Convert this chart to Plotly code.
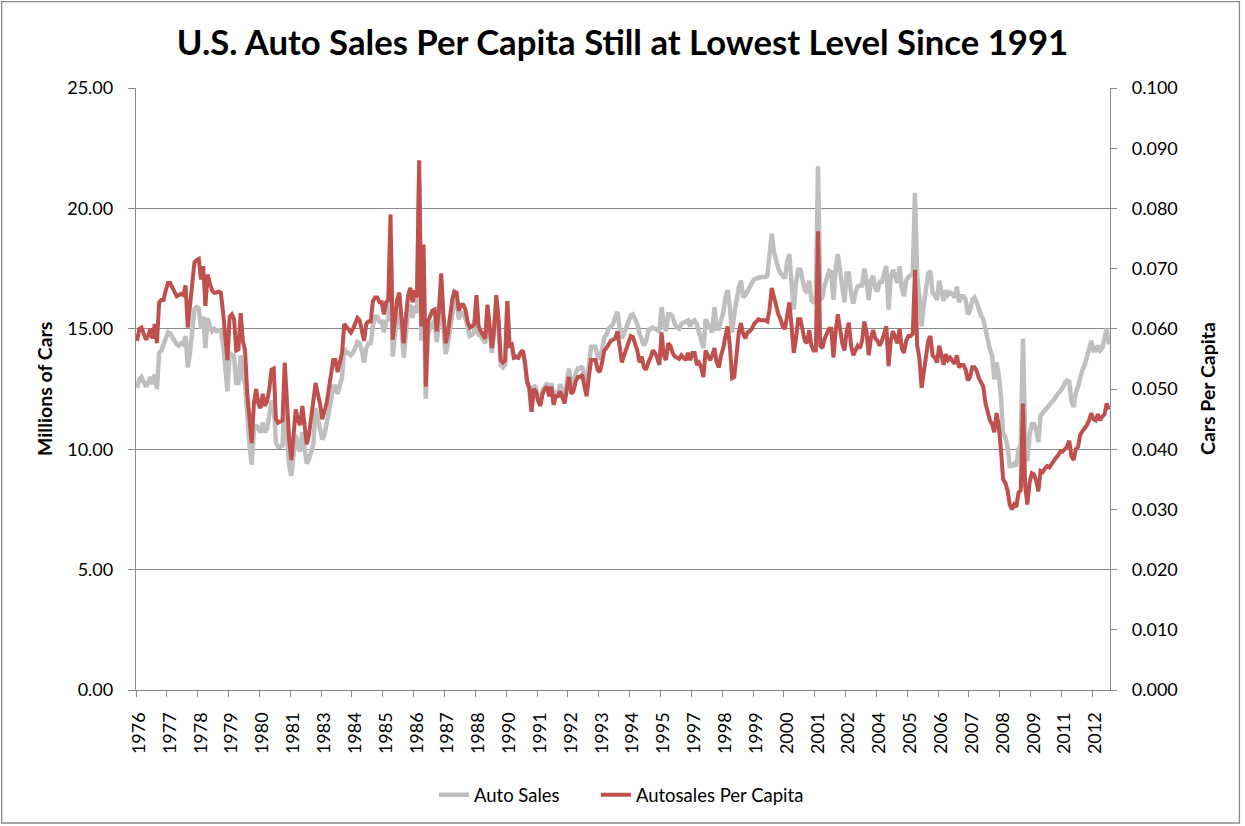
import pandas as pd
import plotly.graph_objects as go

# Monthly data, Jan 1976 - Oct 2012
months = pd.date_range("1976-01-01", periods=442, freq="MS")

# Auto sales, millions of cars (annual rate)
auto_sales = [
    12.55, 12.9, 13.0, 12.75, 12.6, 12.75, 13.0, 12.7, 13.1, 12.5, 14.0, 14.1,      # 1976
    14.4, 14.6, 14.85, 14.8, 14.6, 14.5, 14.35, 14.3, 14.4, 14.35, 14.7, 13.4,      # 1977
    14.0, 14.9, 15.8, 15.9, 15.85, 15.0, 15.5, 14.2, 15.45, 15.1, 14.9, 15.0,       # 1978
    14.9, 14.95, 14.9, 14.4, 13.2, 12.4, 14.0, 13.95, 13.85, 12.75, 12.75, 13.9,    # 1979
    13.0, 12.7, 11.3, 10.2, 9.35, 10.8, 11.0, 10.8, 10.7, 11.1, 10.7, 10.85,        # 1980
    11.5, 12.0, 11.9, 10.26, 10.1, 10.1, 10.15, 12.4, 10.5, 9.3, 8.9, 9.6,          # 1981
    10.6, 10.1, 9.9, 10.7, 9.9, 9.4, 9.6, 10.0, 10.2, 11.7, 11.2, 10.9,             # 1982
    10.4, 10.6, 11.0, 11.5, 12.0, 12.6, 12.6, 12.3, 12.7, 13.0, 14.2, 14.0,         # 1983
    14.0, 13.9, 14.0, 14.2, 14.45, 14.4, 14.1, 13.6, 14.2, 14.4, 14.4, 15.1,        # 1984
    15.5, 15.5, 15.3, 15.3, 14.85, 15.3, 15.4, 18.8, 13.85, 14.75, 15.4, 15.7,      # 1985
    15.0, 13.8, 14.9, 15.75, 16.0, 15.45, 15.95, 15.65, 21.1, 14.5, 17.75, 12.1,    # 1986
    14.8, 15.0, 15.25, 15.3, 14.45, 15.3, 16.75, 15.1, 13.95, 14.35, 15.0, 15.7,    # 1987
    16.2, 16.15, 15.4, 15.65, 15.65, 15.45, 14.95, 14.7, 14.75, 14.85, 16.05, 14.75,  # 1988
    14.7, 14.5, 14.4, 15.8, 15.0, 14.0, 14.8, 16.2, 15.2, 13.5, 13.4, 13.5,         # 1989
    16.1, 14.3, 14.3, 13.8, 13.8, 13.8, 14.0, 14.1, 13.6, 12.8, 12.5, 11.55,        # 1990
    12.65, 12.55, 12.15, 11.95, 12.45, 12.65, 12.75, 12.35, 12.75, 12.0, 12.35, 12.35,  # 1991
    12.7, 12.4, 12.2, 12.8, 13.35, 12.6, 12.7, 13.15, 13.35, 13.35, 13.45, 12.95,   # 1992
    12.7, 13.5, 14.25, 14.25, 14.25, 13.85, 13.75, 14.15, 14.65, 14.75, 15.0, 15.1,  # 1993
    15.2, 15.5, 15.7, 15.0, 14.6, 14.8, 15.0, 15.3, 15.55, 15.6, 15.4, 15.2,        # 1994
    14.8, 14.6, 14.3, 14.5, 14.95, 15.0, 15.05, 15.0, 14.95, 14.9, 15.9, 15.2,      # 1995
    14.9, 15.6, 15.6, 15.5, 15.2, 15.05, 15.0, 15.2, 15.25, 15.3, 15.35, 15.1,      # 1996
    15.3, 15.35, 15.2, 14.85, 14.5, 14.2, 15.4, 15.2, 15.0, 14.85, 15.9, 15.0,      # 1997
    15.0, 15.3, 15.7, 16.3, 16.6, 15.9, 14.85, 15.6, 16.2, 16.7, 17.0, 16.3,        # 1998
    16.4, 16.6, 16.7, 16.9, 17.05, 17.1, 17.15, 17.15, 17.15, 17.15, 17.2, 17.95,   # 1999
    18.95, 18.2, 17.8, 17.5, 17.3, 17.2, 17.1, 17.8, 18.1, 16.9, 15.8, 16.9,        # 2000
    17.45, 17.45, 17.0, 16.6, 16.5, 17.0, 16.2, 16.1, 16.1, 21.75, 16.2, 16.3,      # 2001
    16.8, 17.2, 17.4, 17.35, 16.2, 17.5, 18.1, 17.4, 16.6, 16.1, 17.3, 17.3,        # 2002
    16.5, 16.05, 16.5, 16.75, 16.8, 16.8, 17.5, 17.0, 16.2, 17.0, 17.2, 16.7,       # 2003
    16.55, 16.95, 16.95, 17.3, 17.6, 15.8, 17.1, 17.45, 17.2, 16.9, 17.6, 16.7,     # 2004
    16.35, 17.0, 17.15, 17.2, 17.3, 20.65, 17.2, 16.3, 15.1, 16.0, 16.8, 17.3,      # 2005
    17.4, 16.5, 16.4, 16.2, 17.0, 16.6, 16.15, 16.6, 16.4, 16.5, 16.45, 16.3,       # 2006
    16.75, 16.1, 16.35, 16.35, 16.2, 15.6, 15.75, 16.2, 16.3, 16.1, 15.8, 15.55,    # 2007
    15.4, 14.95, 14.6, 14.15, 13.9, 12.9, 13.6, 13.1, 12.2, 10.65, 10.5, 10.1,      # 2008
    9.3, 9.3, 9.4, 9.3, 10.0, 10.2, 14.6, 10.4, 9.5, 10.6, 11.05, 11.05,            # 2009
    10.8, 10.3, 11.4, 11.5, 11.65, 11.7, 11.8, 11.9, 12.05, 12.2, 12.3, 12.4,       # 2010
    12.55, 12.75, 12.85, 12.8, 12.0, 11.75, 12.35, 12.6, 13.0, 13.3, 13.5, 13.8,    # 2011
    14.2, 14.5, 14.1, 14.1, 14.3, 14.1, 14.2, 14.6, 15.0, 14.35,                    # 2012
]

# Auto sales per capita (cars per person)
per_capita = [
    .0580, .0600, .0602, .0592, .0582, .0588, .0600, .0584, .0608, .0576, .0644, .0648,  # 1976
    .0648, .0664, .0676, .0676, .0668, .0664, .0654, .0656, .0658, .0656, .0672, .0602,  # 1977
    .0640, .0672, .0710, .0714, .0716, .0682, .0704, .0638, .0690, .0676, .0664, .0660,  # 1978
    .0660, .0662, .0660, .0628, .0584, .0548, .0620, .0624, .0616, .0564, .0566, .0626,  # 1979
    .0580, .0564, .0492, .0448, .0410, .0476, .0500, .0476, .0468, .0492, .0472, .0480,  # 1980
    .0500, .0532, .0534, .0450, .0444, .0446, .0448, .0544, .0464, .0416, .0382, .0424,  # 1981
    .0466, .0448, .0440, .0472, .0440, .0408, .0424, .0452, .0472, .0510, .0492, .0476,  # 1982
    .0450, .0464, .0476, .0500, .0520, .0548, .0548, .0528, .0544, .0560, .0608, .0604,  # 1983
    .0600, .0594, .0600, .0608, .0618, .0614, .0600, .0580, .0608, .0612, .0612, .0646,  # 1984
    .0652, .0652, .0644, .0644, .0624, .0644, .0648, .0790, .0582, .0620, .0648, .0660,  # 1985
    .0624, .0576, .0620, .0656, .0668, .0644, .0664, .0652, .0880, .0604, .0740, .0504,  # 1986
    .0612, .0620, .0630, .0632, .0596, .0632, .0692, .0624, .0576, .0592, .0620, .0648,  # 1987
    .0662, .0660, .0630, .0640, .0640, .0632, .0612, .0602, .0604, .0608, .0656, .0604,  # 1988
    .0596, .0588, .0584, .0640, .0608, .0568, .0600, .0656, .0616, .0548, .0544, .0548,  # 1989
    .0646, .0572, .0574, .0552, .0554, .0552, .0560, .0564, .0544, .0512, .0502, .0462,  # 1990
    .0500, .0496, .0480, .0472, .0492, .0500, .0504, .0488, .0504, .0474, .0488, .0488,  # 1991
    .0496, .0484, .0476, .0500, .0520, .0492, .0496, .0512, .0520, .0520, .0524, .0504,  # 1992
    .0488, .0520, .0548, .0548, .0548, .0532, .0528, .0544, .0564, .0568, .0576, .0580,  # 1993
    .0582, .0584, .0596, .0568, .0544, .0556, .0568, .0580, .0588, .0586, .0576, .0564,  # 1994
    .0544, .0554, .0536, .0532, .0544, .0552, .0564, .0560, .0552, .0540, .0594, .0556,  # 1995
    .0548, .0576, .0572, .0560, .0554, .0552, .0550, .0556, .0552, .0548, .0560, .0548,  # 1996
    .0560, .0560, .0540, .0544, .0536, .0520, .0564, .0556, .0548, .0556, .0568, .0544,  # 1997
    .0536, .0556, .0568, .0588, .0604, .0572, .0518, .0520, .0560, .0592, .0610, .0592,  # 1998
    .0584, .0594, .0596, .0600, .0608, .0612, .0616, .0614, .0614, .0614, .0612, .0632,  # 1999
    .0668, .0652, .0636, .0624, .0616, .0604, .0600, .0624, .0644, .0604, .0560, .0584,  # 2000
    .0616, .0616, .0596, .0580, .0576, .0598, .0572, .0564, .0564, .0762, .0572, .0568,  # 2001
    .0584, .0592, .0600, .0600, .0552, .0596, .0624, .0600, .0576, .0564, .0596, .0610,  # 2002
    .0572, .0556, .0566, .0572, .0568, .0580, .0612, .0596, .0556, .0584, .0598, .0584,  # 2003
    .0580, .0572, .0580, .0592, .0604, .0538, .0580, .0596, .0584, .0576, .0600, .0568,  # 2004
    .0560, .0580, .0588, .0588, .0592, .0698, .0572, .0552, .0502, .0532, .0552, .0580,  # 2005
    .0588, .0556, .0552, .0544, .0572, .0556, .0540, .0558, .0548, .0552, .0548, .0542,  # 2006
    .0556, .0536, .0540, .0540, .0532, .0514, .0520, .0536, .0536, .0530, .0518, .0510,  # 2007
    .0504, .0476, .0460, .0448, .0442, .0428, .0460, .0440, .0400, .0350, .0344, .0332,  # 2008
    .0308, .0300, .0308, .0304, .0328, .0332, .0476, .0340, .0308, .0344, .0360, .0358,  # 2009
    .0348, .0330, .0364, .0362, .0368, .0372, .0370, .0376, .0380, .0386, .0390, .0396,  # 2010
    .0396, .0400, .0404, .0414, .0388, .0382, .0400, .0404, .0424, .0430, .0434, .0440,  # 2011
    .0448, .0460, .0450, .0448, .0458, .0448, .0454, .0458, .0476, .0466,                # 2012
]

# category axis: one slot per month, a label every 14 months (like Excel)
label_step = 14
idx = list(range(len(months)))
tick_idx = list(range(0, len(months), label_step))
tick_text = [str(months[i].year) for i in tick_idx]

FONT = "Lato"
GRID = "#8a8a8a"

fig = go.Figure()
fig.add_trace(go.Scatter(x=idx, y=auto_sales, name="Auto Sales", mode="lines",
                         line=dict(color="#bfbfbf", width=4.5), legend="legend"))
fig.add_trace(go.Scatter(x=idx, y=per_capita, name="Autosales Per Capita", mode="lines",
                         line=dict(color="#c0504d", width=4), yaxis="y2", legend="legend2"))

# one legend box per series so the spacing matches the original
legend_style = dict(orientation="h", xanchor="left", y=-0.175, yanchor="middle",
                    font=dict(size=18.5, family=FONT), bgcolor="rgba(0,0,0,0)")

fig.update_layout(
    width=1245, height=826,
    margin=dict(l=136, r=135, t=88, b=136),
    paper_bgcolor="white", plot_bgcolor="white",
    font=dict(family=FONT, color="black", size=18),
    title=dict(text="<b>U.S. Auto Sales Per Capita Still at Lowest Level Since 1991</b>",
               x=0.5, xanchor="center", y=1 - 43 / 826, yanchor="middle",
               font=dict(size=34.7, family=FONT, color="black")),
    showlegend=True,
    legend=dict(x=0.3059, **legend_style),
    legend2=dict(x=0.4722, **legend_style),
    xaxis=dict(range=[-0.5, len(months) - 0.5], tickmode="array",
               tickvals=[i - 0.5 for i in tick_idx], ticktext=tick_text,
               tickangle=-90, ticks="outside", ticklen=6, tickcolor=GRID, tickwidth=1.3,
               showline=True, linecolor=GRID, linewidth=1.3, showgrid=False, zeroline=False,
               ticklabelstandoff=8, ticklabelshift=3, tickfont=dict(size=18)),
    yaxis=dict(range=[0, 25], dtick=5, tickformat=".2f", ticks="outside", ticklen=7,
               tickcolor=GRID, tickwidth=1.3, showline=True, linecolor=GRID, linewidth=1.3,
               showgrid=True, gridcolor=GRID, gridwidth=1.3, zeroline=False,
               ticklabelstandoff=11, tickfont=dict(size=18)),
    yaxis2=dict(range=[0, 0.1], dtick=0.01, tickformat=".3f", overlaying="y", side="right",
                ticks="outside", ticklen=6, tickcolor=GRID, tickwidth=1.3,
                showline=True, linecolor=GRID, linewidth=1.3, showgrid=False, zeroline=False,
                ticklabelstandoff=11, tickfont=dict(size=18)),
    annotations=[
        dict(text="<b>Millions of Cars</b>", xref="paper", yref="paper", x=-0.0945, y=0.5,
             xanchor="center", yanchor="middle", textangle=-90, showarrow=False,
             font=dict(size=19.5, family=FONT)),
        dict(text="<b>Cars Per Capita</b>", xref="paper", yref="paper", x=1.0996, y=0.5,
             xanchor="center", yanchor="middle", textangle=-90, showarrow=False,
             font=dict(size=19.5, family=FONT)),
    ],
    shapes=[dict(type="rect", xref="paper", yref="paper", x0=-0.1379, x1=1.1329,
                 y0=-0.2209, y1=1.1434, line=dict(color="#8a8a8a", width=1.3),
                 fillcolor="rgba(0,0,0,0)", layer="below")],
)

fig.write_html("out.html", config={"displayModeBar": False},
               post_script="document.body.style.margin='0';document.body.style.overflow='hidden';")
